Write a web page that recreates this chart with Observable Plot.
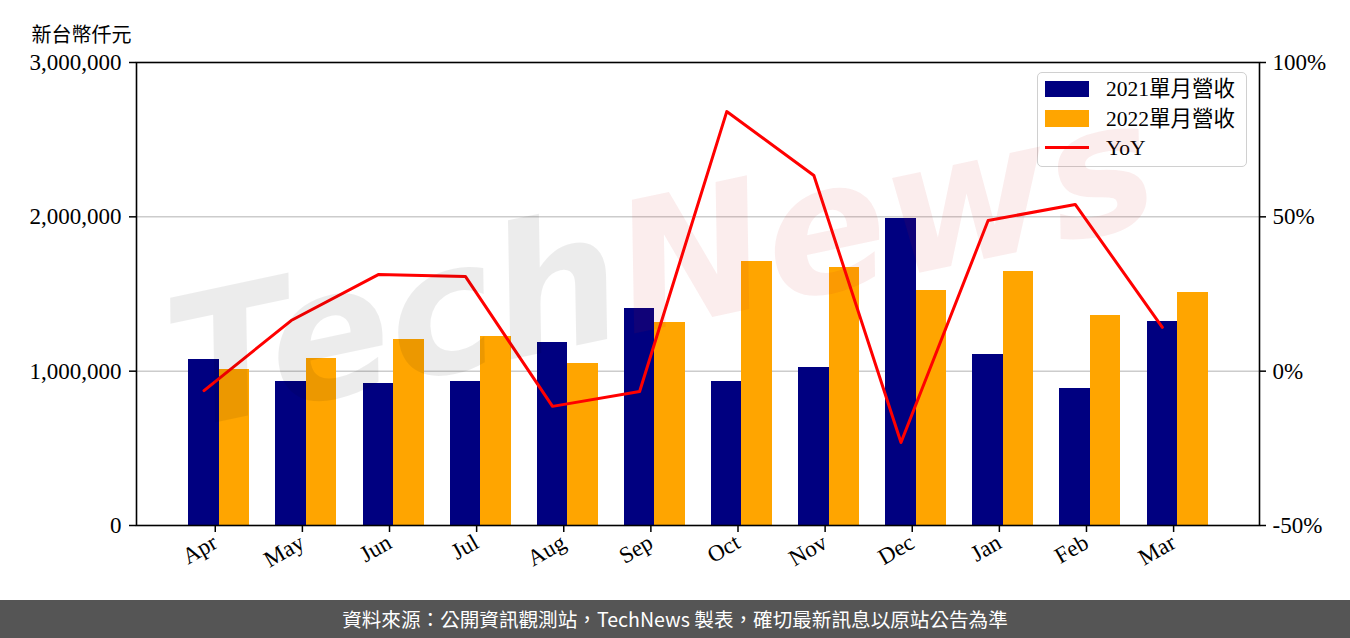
<!DOCTYPE html>
<html>
<head>
<meta charset="utf-8">
<script src="https://cdn.jsdelivr.net/npm/d3@7"></script>
<script src="https://cdn.jsdelivr.net/npm/@observablehq/plot@0.6"></script>
<style>
  html, body { margin: 0; padding: 0; background: #fff; }
  #wrap { position: relative; width: 1350px; height: 638px; overflow: hidden; }
  #legend { position: absolute; left: 1037px; top: 72px; width: 208px; height: 93px;
    border: 1.5px solid #d0d0d0; border-radius: 5px; background: rgba(255,255,255,0.85);
    font-family: "Liberation Serif", "Noto Sans CJK TC", serif; font-size: 21.5px; color: #000; }
  .sw { position: absolute; left: 7px; width: 44px; }
  .lt { position: absolute; left: 68px; line-height: 24px; white-space: nowrap; }
  #footer { position: absolute; left: 0; top: 600px; width: 1350px; height: 38px; background: #555555;
    color: #fff; font-family: "Noto Sans CJK TC", sans-serif; font-size: 19.6px; line-height: 38px; text-align: center; }
  #wm { position: absolute; left: 0; top: 0; pointer-events: none; }
</style>
</head>
<body>
<div id="wrap">
  <div id="chart"></div>
  <div id="legend">
    <div class="sw" style="top:8px;height:16px;background:#000080"></div>
    <div class="lt" style="top:4px">2021單月營收</div>
    <div class="sw" style="top:37px;height:17px;background:#FFA500"></div>
    <div class="lt" style="top:34px">2022單月營收</div>
    <div class="sw" style="top:73px;height:3px;background:#ff0000"></div>
    <div class="lt" style="top:63px">YoY</div>
  </div>
  <svg id="wm" width="1350" height="600">
    <g transform="translate(650,330) rotate(-12)">
      <text x="-20" y="0" text-anchor="end" font-family="DejaVu Sans" font-weight="bold" font-style="italic" font-size="180" fill="#000" fill-opacity="0.075">Tech</text>
      <text x="-20" y="0" text-anchor="start" font-family="DejaVu Sans" font-weight="bold" font-style="italic" font-size="180" fill="#c81e1e" fill-opacity="0.08">News</text>
    </g>
  </svg>
  <div id="footer">資料來源：公開資訊觀測站，TechNews 製表，確切最新訊息以原站公告為準</div>
</div>
<script>
const months = ["Apr","May","Jun","Jul","Aug","Sep","Oct","Nov","Dec","Jan","Feb","Mar"];
const rev2021 = [1075600, 933000, 922000, 933000, 1185700, 1406000, 933000, 1023800, 1989200, 1108000, 887700, 1321800];
const rev2022 = [1010800, 1082000, 1205200, 1226600, 1049700, 1315300, 1710600, 1671700, 1522700, 1645800, 1360700, 1509700];
const yoy = [-6.3, 16.4, 31.3, 30.7, -11.4, -6.6, 84.1, 63.4, -23.1, 48.8, 54.0, 14.2];
const leftTicks = [0, 1000000, 2000000, 3000000];
const rightTickLabels = ["-50%", "0%", "50%", "100%"];

const data = months.map((m, i) => ({i, m, r2021: rev2021[i], r2022: rev2022[i], yoy: yoy[i]}));
// map YoY (-50%..100%) onto the left scale (0..3,000,000)
const yoyToY = p => (p + 50) / 150 * 3000000;

const plot = Plot.plot({
  width: 1350,
  height: 600,
  marginLeft: 136,
  marginRight: 91,
  marginTop: 62,
  marginBottom: 75,
  style: {fontFamily: "'Liberation Serif', 'Noto Sans CJK TC', serif", fontSize: "23px", color: "#000", background: "transparent"},
  x: {type: "linear", domain: [-0.95, 11.94]},
  y: {domain: [0, 3000000]},
  marks: [
    Plot.gridY([1000000, 2000000], {stroke: "#cccccc", strokeOpacity: 1, strokeWidth: 1.5}),
    Plot.rect(data, {x1: d => d.i - 0.35, x2: d => d.i, y1: 0, y2: "r2021", fill: "#000080", shapeRendering: "crispEdges"}),
    Plot.rect(data, {x1: d => d.i, x2: d => d.i + 0.35, y1: 0, y2: "r2022", fill: "#FFA500", shapeRendering: "crispEdges"}),
    Plot.line(data, {x: d => d.i - 0.175, y: d => yoyToY(d.yoy), stroke: "#ff0000", strokeWidth: 3}),
    Plot.frame({stroke: "#000", strokeWidth: 1.6}),
    Plot.axisY({anchor: "left", ticks: leftTicks, tickFormat: d3.format(","), tickSize: 7, tickPadding: 8, label: null, strokeWidth: 1.5}),
    Plot.axisY({anchor: "right", ticks: leftTicks, tickFormat: (d, k) => rightTickLabels[k], tickSize: 6, tickPadding: 7, label: null, strokeWidth: 1.5}),
    Plot.axisX({anchor: "bottom", ticks: d3.range(12), tickFormat: i => months[i], tickRotate: -30, tickSize: 7, tickPadding: 8, dx: -4, label: null, strokeWidth: 1.5}),
    Plot.text(["新台幣仟元"], {frameAnchor: "top-left", dx: -55, dy: -35, fontSize: 20, fontFamily: "'Noto Sans CJK TC', sans-serif", textAnchor: "middle"})
  ]
});
document.getElementById("chart").appendChild(plot);
</script>
</body>
</html>
